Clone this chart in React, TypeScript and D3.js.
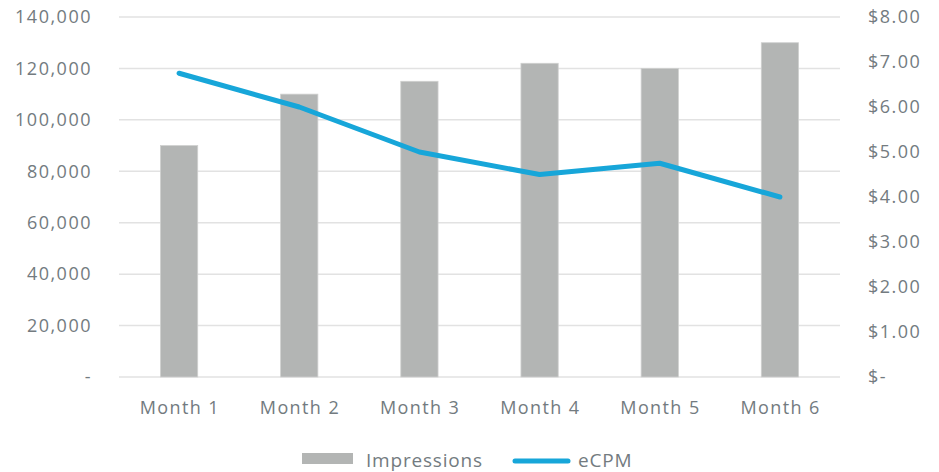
import React from "react";
import * as d3 from "d3";

const categories = ["Month 1", "Month 2", "Month 3", "Month 4", "Month 5", "Month 6"];
const impressions = [90000, 110000, 115000, 122000, 120000, 130000];
const ecpm = [6.75, 6.0, 5.0, 4.5, 4.75, 4.0];
const leftTicks = [0, 20000, 40000, 60000, 80000, 100000, 120000, 140000];
const rightTicks = [0, 1, 2, 3, 4, 5, 6, 7, 8];

const W = 939;
const H = 472;
const plot = { left: 119, right: 840, top: 17, bottom: 377 };
const font = "'Open Sans', sans-serif";
const textColor = "#737b80";

export default function App() {
  const x = d3.scaleBand<string>().domain(categories).range([plot.left, plot.right]).paddingInner(0.69).paddingOuter(0.345);
  const xc = (c: string) => (x(c) as number) + x.bandwidth() / 2;
  const yL = d3.scaleLinear().domain([0, 140000]).range([plot.bottom, plot.top]);
  const yR = d3.scaleLinear().domain([0, 8]).range([plot.bottom, plot.top]);
  const fmtL = (v: number) => (v === 0 ? "-" : d3.format(",")(v));
  const fmtR = (v: number) => (v === 0 ? "$-" : "$" + d3.format(".2f")(v));
  const line = d3
    .line<number>()
    .x((_, i) => xc(categories[i]))
    .y((d) => yR(d));

  return (
    <svg width={W} height={H} style={{ position: "absolute", left: 0, top: 0, background: "#fff" }}>
      {leftTicks.map((t) => (
        <line key={"g" + t} x1={plot.left} x2={plot.right} y1={yL(t)} y2={yL(t)} stroke="#e2e2e2" strokeWidth={1.5} />
      ))}
      {leftTicks.map((t) => (
        <text key={"l" + t} x={92} y={yL(t)} dy="0.35em" textAnchor="end" fontFamily={font} fontSize={18} letterSpacing={1.5} fill={textColor}>
          {fmtL(t)}
        </text>
      ))}
      {rightTicks.map((t) => (
        <text key={"r" + t} x={868} y={yR(t)} dy="0.35em" textAnchor="start" fontFamily={font} fontSize={18} letterSpacing={1.5} fill={textColor}>
          {fmtR(t)}
        </text>
      ))}
      {categories.map((c, i) => (
        <rect
          key={"b" + c}
          x={x(c)}
          y={yL(impressions[i])}
          width={x.bandwidth()}
          height={plot.bottom - yL(impressions[i])}
          fill="#b3b5b4"
          stroke="#cfd0cf"
          strokeWidth={0.8}
        />
      ))}
      {categories.map((c) => (
        <text key={"c" + c} x={xc(c) + 0.7} y={414} textAnchor="middle" fontFamily={font} fontSize={18} letterSpacing={1.4} fill={textColor}>
          {c}
        </text>
      ))}
      <path d={line(ecpm) || ""} fill="none" stroke="#17a6d9" strokeWidth={5} strokeLinecap="round" strokeLinejoin="round" />
      <rect x={302} y={453} width={51} height={11} fill="#b3b5b4" />
      <text x={366} y={467} fontFamily={font} fontSize={19} letterSpacing={0.8} fill={textColor}>Impressions</text>
      <line x1={515} x2={568} y1={461} y2={461} stroke="#17a6d9" strokeWidth={5} strokeLinecap="round" />
      <text x={578} y={467} fontFamily={font} fontSize={19} letterSpacing={0.8} fill={textColor}>eCPM</text>
    </svg>
  );
}
